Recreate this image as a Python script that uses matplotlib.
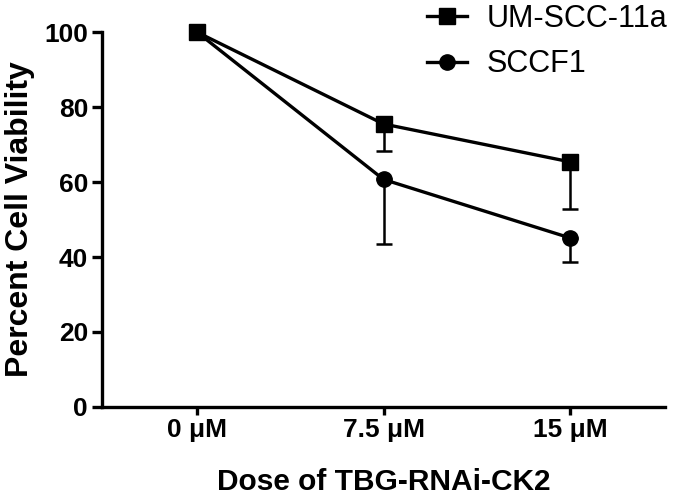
import numpy as np
import matplotlib
matplotlib.use("Agg")
import matplotlib.pyplot as plt
from matplotlib.lines import Line2D

plt.rcParams['font.family'] = ['Liberation Sans', 'DejaVu Sans']

doses = ['0 \u03bcM', '7.5 \u03bcM', '15 \u03bcM']
um_scc_11a = [100, 75.5, 65.4]
um_scc_11a_err = [0, 7.3, 12.7]
sccf1 = [100, 60.7, 45.1]
sccf1_err = [0, 17.2, 6.4]

fig = plt.figure(figsize=(6.8, 4.95), dpi=100)
ax = fig.add_axes([0.150, 0.178, 0.828, 0.757])

x = np.arange(len(doses))

# only the lower error bars are drawn, like the original figure
ax.errorbar(x, um_scc_11a, yerr=[um_scc_11a_err, np.zeros(3)], color='black',
            marker='s', markersize=11, linewidth=2.4, elinewidth=1.8,
            capsize=5.5, capthick=1.8, clip_on=False, zorder=3)
ax.errorbar(x, sccf1, yerr=[sccf1_err, np.zeros(3)], color='black',
            marker='o', markersize=11, linewidth=2.4, elinewidth=1.8,
            capsize=5.5, capthick=1.8, clip_on=False, zorder=3)

ax.set_xlim(-0.51, 2.51)
ax.set_ylim(0, 100)
ax.set_yticks([0, 20, 40, 60, 80, 100])
ax.set_xticks(x)
ax.set_xticklabels(doses)

for s in ['top', 'right']:
    ax.spines[s].set_visible(False)
for s in ['left', 'bottom']:
    ax.spines[s].set_linewidth(2.4)

ax.tick_params(axis='y', width=2.4, length=7, labelsize=19, pad=3)
ax.tick_params(axis='x', width=2.4, length=6, labelsize=19, pad=2)
for lab in ax.get_xticklabels() + ax.get_yticklabels():
    lab.set_fontweight('bold')

ax.set_ylabel('Percent Cell Viability', fontsize=23, fontweight='bold', labelpad=7)
ax.set_xlabel('Dose of TBG-RNAi-CK2', fontsize=21.5, fontweight='bold', labelpad=18.5)

handles = [Line2D([], [], color='black', marker='s', markersize=11, linewidth=2.4),
           Line2D([], [], color='black', marker='o', markersize=11, linewidth=2.4)]
fig.legend(handles, ['UM-SCC-11a', 'SCCF1'], loc='upper left',
           bbox_to_anchor=(0.628, 0.992), frameon=False, fontsize=22,
           borderpad=0, borderaxespad=0, handlelength=1.3,
           handletextpad=0.65, labelspacing=0.5)

fig.savefig('out.png', dpi=100)
